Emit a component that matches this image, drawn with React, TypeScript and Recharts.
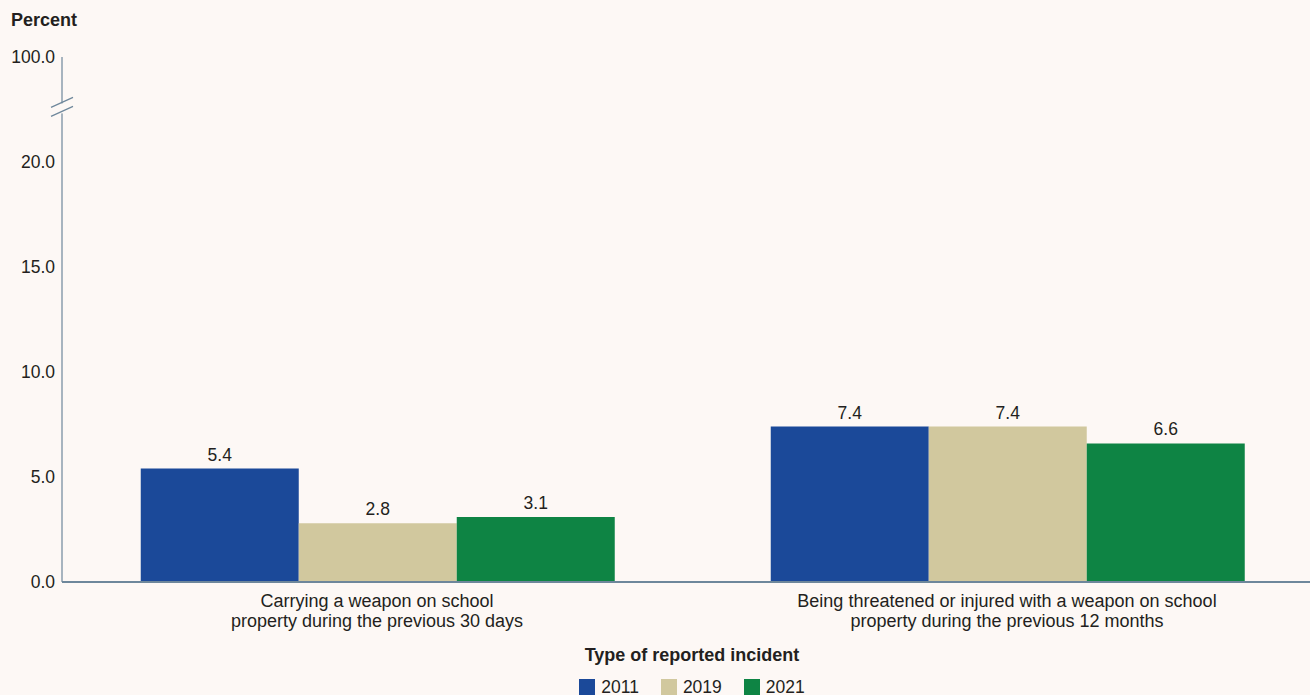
import { BarChart, Bar, XAxis, YAxis, Legend, LabelList } from 'recharts';

const categories = [
  'Carrying a weapon on school\nproperty during the previous 30 days',
  'Being threatened or injured with a weapon on school\nproperty during the previous 12 months',
];
const years = ['2011', '2019', '2021'];
const values2011 = [5.4, 7.4];
const values2019 = [2.8, 7.4];
const values2021 = [3.1, 6.6];

// the axis is broken: the top tick stands for 100 percent
const yTicks = [0, 5, 10, 15, 20, 22.6, 25];
const axisBreakAt = 22.6;
const axisTop = 25;
const axisTopLabel = '100.0';

const colors = ['#1b4999', '#d1c89e', '#0e8444'];
const bg = '#fdf8f5';
const axisColor = '#6e879b';
const textColor = '#231f20';
const font = '"Liberation Sans", Arial, sans-serif';

const data = categories.map((name, i) => ({
  name,
  y2011: values2011[i],
  y2019: values2019[i],
  y2021: values2021[i],
}));

const YTick = (props: any) => {
  const { x, y, payload } = props;
  if (payload.value === axisBreakAt) {
    const ax = x + 7;
    return (
      <g>
        <rect x={ax - 3} y={y - 4} width={6} height={10} fill={bg} />
        <line x1={ax - 11} y1={y} x2={ax + 11} y2={y - 10} stroke={axisColor} strokeWidth={1.2} />
        <line x1={ax - 11} y1={y + 9} x2={ax + 11} y2={y - 1} stroke={axisColor} strokeWidth={1.2} />
      </g>
    );
  }
  const label = payload.value === axisTop ? axisTopLabel : payload.value.toFixed(1);
  return (
    <text x={x} y={y} dy="0.355em" textAnchor="end" fill={textColor} fontSize={17.5} fontFamily={font}>
      {label}
    </text>
  );
};

const XTick = (props: any) => {
  const { x, y, payload } = props;
  const lines = String(payload.value).split('\n');
  return (
    <text x={x} y={y} textAnchor="middle" fill={textColor} fontSize={18} fontFamily={font}>
      {lines.map((l, i) => (
        <tspan key={i} x={x} dy={i === 0 ? 17 : 20}>
          {l}
        </tspan>
      ))}
    </text>
  );
};

const XTitle = (props: any) => {
  const { viewBox } = props;
  return (
    <text
      x={viewBox.x + viewBox.width / 2}
      y={viewBox.y + 79}
      textAnchor="middle"
      fill={textColor}
      fontSize={18}
      fontWeight="bold"
      fontFamily={font}
    >
      Type of reported incident
    </text>
  );
};

const LegendContent = (props: any) => {
  const { payload } = props;
  return (
    <div style={{ display: 'flex', justifyContent: 'center', height: 24, fontFamily: font, fontSize: 17.5, color: textColor }}>
      {payload.map((p: any) => (
        <div key={p.value} style={{ display: 'flex', alignItems: 'flex-start', marginRight: 22 }}>
          <span style={{ display: 'inline-block', width: 16, height: 16, background: p.color, marginRight: 6, marginTop: 2 }} />
          <span>{p.value}</span>
        </div>
      ))}
    </div>
  );
};

export default function App() {
  return (
    <div style={{ position: 'absolute', left: 0, top: 0, width: 1310, height: 695, overflow: 'hidden', background: bg }}>
      <div
        style={{
          position: 'absolute',
          left: 11,
          top: 10,
          fontFamily: font,
          fontSize: 18,
          fontWeight: 'bold',
          color: textColor,
        }}
      >
        Percent
      </div>
      <BarChart
        width={1384}
        height={720}
        data={data}
        margin={{ top: 57, right: 62, bottom: 14, left: 0 }}
        barCategoryGap="12.5%"
        barGap={0}
      >
        <XAxis
          dataKey="name"
          axisLine={{ stroke: axisColor, strokeWidth: 1.8 }}
          tickLine={false}
          interval={0}
          height={100}
          tick={<XTick />}
          label={<XTitle />}
        />
        <YAxis
          width={62}
          domain={[0, axisTop]}
          ticks={yTicks}
          interval={0}
          axisLine={{ stroke: axisColor, strokeWidth: 1.2 }}
          tickLine={false}
          tickSize={0}
          tickMargin={7}
          tick={<YTick />}
        />
        <Legend
          verticalAlign="bottom"
          content={<LegendContent />}
          wrapperStyle={{ left: 62, width: 1282, top: 677 }}
        />
        {(['y2011', 'y2019', 'y2021'] as const).map((key, i) => (
          <Bar key={key} dataKey={key} name={years[i]} fill={colors[i]} isAnimationActive={false}>
            <LabelList
              dataKey={key}
              position="top"
              offset={8}
              fill={textColor}
              fontSize={17.5}
              fontFamily={font}
              formatter={(v: any) => Number(v).toFixed(1)}
            />
          </Bar>
        ))}
      </BarChart>
    </div>
  );
}
